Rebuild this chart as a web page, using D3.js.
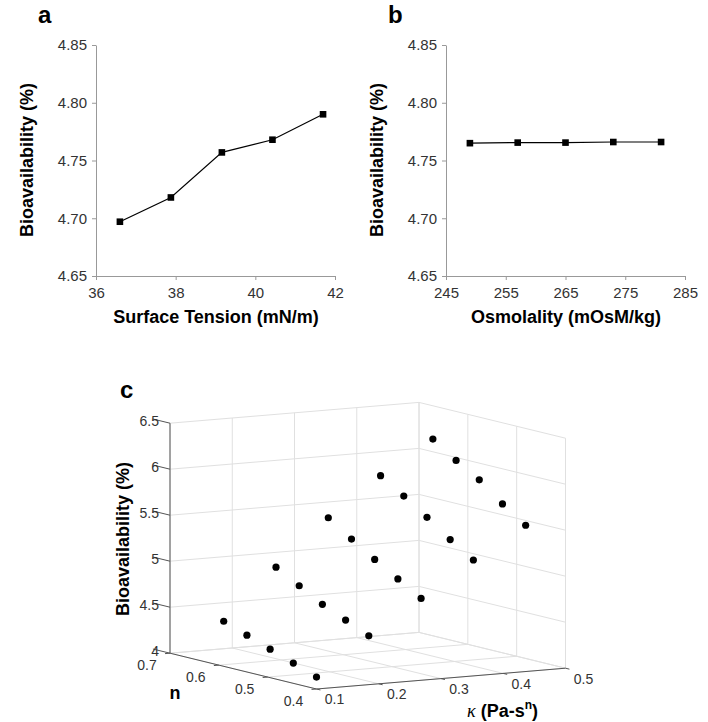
<!DOCTYPE html>
<html>
<head>
<meta charset="utf-8">
<script src="https://cdn.jsdelivr.net/npm/d3@7"></script>
<style>
  body { margin: 0; background: #fff; }
  svg text { font-family: "Liberation Sans", Arial, sans-serif; }
</style>
</head>
<body>
<svg width="708" height="722"></svg>
<script>
// ---- panel a : surface tension
var tensionX   = [36.6, 37.88, 39.16, 40.43, 41.7];
var tensionBio = [4.697, 4.718, 4.757, 4.768, 4.790];
var tensionTicks = [36, 38, 40, 42];

// ---- panel b : osmolality
var osmoX   = [249, 257, 265, 273, 281];
var osmoBio = [4.765, 4.7655, 4.7655, 4.766, 4.766];
var osmoTicks = [245, 255, 265, 275, 285];

var bioTicks = [4.65, 4.70, 4.75, 4.80, 4.85];

// ---- panel c : kappa / n / bioavailability
var kappaVals = [0.1, 0.184, 0.268, 0.352, 0.436];
var nVals     = [0.59, 0.5425, 0.495, 0.4475, 0.4];
// rows = kappa, cols = n
var bioGrid = [
  [4.49, 4.40, 4.31, 4.22, 4.13],
  [5.03, 4.89, 4.75, 4.64, 4.53],
  [5.52, 5.35, 5.19, 5.04, 4.89],
  [5.93, 5.77, 5.60, 5.42, 5.26],
  [6.28, 6.11, 5.96, 5.76, 5.59]
];
var kappaTicks = [0.1, 0.2, 0.3, 0.4, 0.5];
var nTicks     = [0.4, 0.5, 0.6, 0.7];
var zTicks     = [4, 4.5, 5, 5.5, 6, 6.5];

var svg = d3.select('svg');
var axisGray = '#999', labelCol = '#333';

function linePanel(left, xs, ys, xTicks, xTitle, letter) {
  var g = svg.append('g');
  var x = d3.scaleLinear().domain([xTicks[0], xTicks[xTicks.length - 1]]).range([left, left + 239]);
  var y = d3.scaleLinear().domain([4.65, 4.85]).range([276, 45]);

  var xa = g.append('g').attr('transform', 'translate(0,276)')
    .call(d3.axisBottom(x).tickValues(xTicks).tickSize(4).tickSizeOuter(0).tickPadding(7).tickFormat(d3.format('d')));
  var ya = g.append('g').attr('transform', 'translate(' + left + ',0)')
    .call(d3.axisLeft(y).tickValues(bioTicks).tickSize(4).tickSizeOuter(0).tickPadding(5).tickFormat(d3.format('.2f')));
  [xa, ya].forEach(function(a) {
    a.attr('font-size', 15).attr('font-family', '"Liberation Sans", Arial, sans-serif');
    a.selectAll('path, line').attr('stroke', axisGray);
    a.selectAll('text').attr('fill', labelCol);
  });

  var pts = xs.map(function(d, i) { return [d, ys[i]]; });
  g.append('path').datum(pts)
    .attr('fill', 'none').attr('stroke', '#000').attr('stroke-width', 1.2)
    .attr('d', d3.line().x(function(d) { return x(d[0]); }).y(function(d) { return y(d[1]); }));
  g.selectAll('rect.pt').data(pts).enter().append('rect')
    .attr('x', function(d) { return x(d[0]) - 3.3; })
    .attr('y', function(d) { return y(d[1]) - 3.3; })
    .attr('width', 6.6).attr('height', 6.6).attr('fill', '#000');

  g.append('text').attr('transform', 'translate(' + (left - 63) + ',160) rotate(-90)')
    .attr('text-anchor', 'middle').style('font-size', '18px').style('font-weight', 'bold')
    .text('Bioavailability (%)');
  g.append('text').attr('x', left + 120).attr('y', 323)
    .attr('text-anchor', 'middle').style('font-size', '18px').style('font-weight', 'bold')
    .text(xTitle);
  g.append('text').attr('x', left - 58).attr('y', 23)
    .style('font-size', '24px').style('font-weight', 'bold').text(letter);
}

linePanel(96, tensionX, tensionBio, tensionTicks, 'Surface Tension (mN/m)', 'a');
linePanel(446, osmoX, osmoBio, osmoTicks, 'Osmolality (mOsM/kg)', 'b');

// ---- panel c : orthographic 3d view
var origin = [316.5, 689];
var kVec = [249, -20.8], nVec = [-146.5, -35.8], zVec = [0, -230];
var kS = d3.scaleLinear().domain([0.1, 0.5]).range([0, 1]);
var nS = d3.scaleLinear().domain([0.4, 0.7]).range([0, 1]);
var zS = d3.scaleLinear().domain([4, 6.5]).range([0, 1]);
function proj(k, n, z) {
  var a = kS(k), b = nS(n), c = zS(z);
  return [origin[0] + a * kVec[0] + b * nVec[0] + c * zVec[0],
          origin[1] + a * kVec[1] + b * nVec[1] + c * zVec[1]];
}

var c = svg.append('g');
var grid = [];
kappaTicks.forEach(function(k) {
  grid.push([proj(k, 0.7, 4), proj(k, 0.7, 6.5)]);   // back wall n=0.7
  grid.push([proj(k, 0.4, 4), proj(k, 0.7, 4)]);     // floor
});
nTicks.forEach(function(n) {
  grid.push([proj(0.5, n, 4), proj(0.5, n, 6.5)]);   // side wall kappa=0.5
  grid.push([proj(0.1, n, 4), proj(0.5, n, 4)]);     // floor
});
zTicks.forEach(function(z) {
  grid.push([proj(0.1, 0.7, z), proj(0.5, 0.7, z)]);
  grid.push([proj(0.5, 0.7, z), proj(0.5, 0.4, z)]);
});
c.selectAll('line.grid').data(grid).enter().append('line')
  .attr('x1', function(d) { return d[0][0]; }).attr('y1', function(d) { return d[0][1]; })
  .attr('x2', function(d) { return d[1][0]; }).attr('y2', function(d) { return d[1][1]; })
  .attr('stroke', '#e0e0e0').attr('stroke-width', 1);

// axis lines + ticks
var axes = [
  [proj(0.1, 0.7, 4), proj(0.1, 0.7, 6.5)],
  [proj(0.1, 0.4, 4), proj(0.1, 0.7, 4)],
  [proj(0.1, 0.4, 4), proj(0.5, 0.4, 4)]
];
zTicks.forEach(function(z) { axes.push([proj(0.1, 0.7, z), proj(0.1, 0.735, z)]); });
nTicks.forEach(function(n) { axes.push([proj(0.1, n, 4), proj(0.092, n, 4)]); });
kappaTicks.forEach(function(k) { axes.push([proj(k, 0.4, 4), proj(k, 0.392, 4)]); });
c.selectAll('line.ax').data(axes).enter().append('line')
  .attr('x1', function(d) { return d[0][0]; }).attr('y1', function(d) { return d[0][1]; })
  .attr('x2', function(d) { return d[1][0]; }).attr('y2', function(d) { return d[1][1]; })
  .attr('stroke', '#555').attr('stroke-width', 1);

// tick labels
c.selectAll('text.zt').data(zTicks).enter().append('text')
  .attr('x', function(d) { return proj(0.1, 0.7, d)[0] - 11; })
  .attr('y', function(d) { return proj(0.1, 0.7, d)[1] - 2; })
  .attr('dy', '0.35em').attr('text-anchor', 'end')
  .style('font-size', '14px').attr('fill', labelCol).text(function(d) { return d; });
c.selectAll('text.nt').data(nTicks).enter().append('text')
  .attr('x', function(d) { return proj(0.1, d, 4)[0] - 23; })
  .attr('y', function(d) { return proj(0.1, d, 4)[1] + 12; })
  .attr('dy', '0.35em').attr('text-anchor', 'middle')
  .style('font-size', '14px').attr('fill', labelCol).text(function(d) { return d; });
c.selectAll('text.kt').data(kappaTicks).enter().append('text')
  .attr('x', function(d) { return proj(d, 0.4, 4)[0] + 18; })
  .attr('y', function(d) { return proj(d, 0.4, 4)[1] + 10.5; })
  .attr('dy', '0.35em').attr('text-anchor', 'middle')
  .style('font-size', '14px').attr('fill', labelCol).text(function(d) { return d; });

// points
var pts3 = [];
kappaVals.forEach(function(k, i) {
  nVals.forEach(function(n, j) { pts3.push(proj(k, n, bioGrid[i][j])); });
});
c.selectAll('circle').data(pts3).enter().append('circle')
  .attr('cx', function(d) { return d[0]; }).attr('cy', function(d) { return d[1]; })
  .attr('r', 3.6).attr('fill', '#000');

// titles
c.append('text').attr('transform', 'translate(129,539) rotate(-90)')
  .attr('text-anchor', 'middle').style('font-size', '18px').style('font-weight', 'bold')
  .text('Bioavailability (%)');
c.append('text').attr('x', 175).attr('y', 699).attr('text-anchor', 'middle')
  .style('font-size', '18px').style('font-weight', 'bold').text('n');
var kt = c.append('text').attr('x', 467).attr('y', 717).style('font-size', '18px');
kt.append('tspan').style('font-family', '"Liberation Serif", serif').style('font-style', 'italic').text('\u03ba');
kt.append('tspan').style('font-weight', 'bold').text(' (Pa-s');
kt.append('tspan').style('font-weight', 'bold').style('font-size', '12px').attr('dy', -8).text('n');
kt.append('tspan').style('font-weight', 'bold').attr('dy', 8).text(')');
c.append('text').attr('x', 120).attr('y', 398)
  .style('font-size', '24px').style('font-weight', 'bold').text('c');
</script>
</body>
</html>
